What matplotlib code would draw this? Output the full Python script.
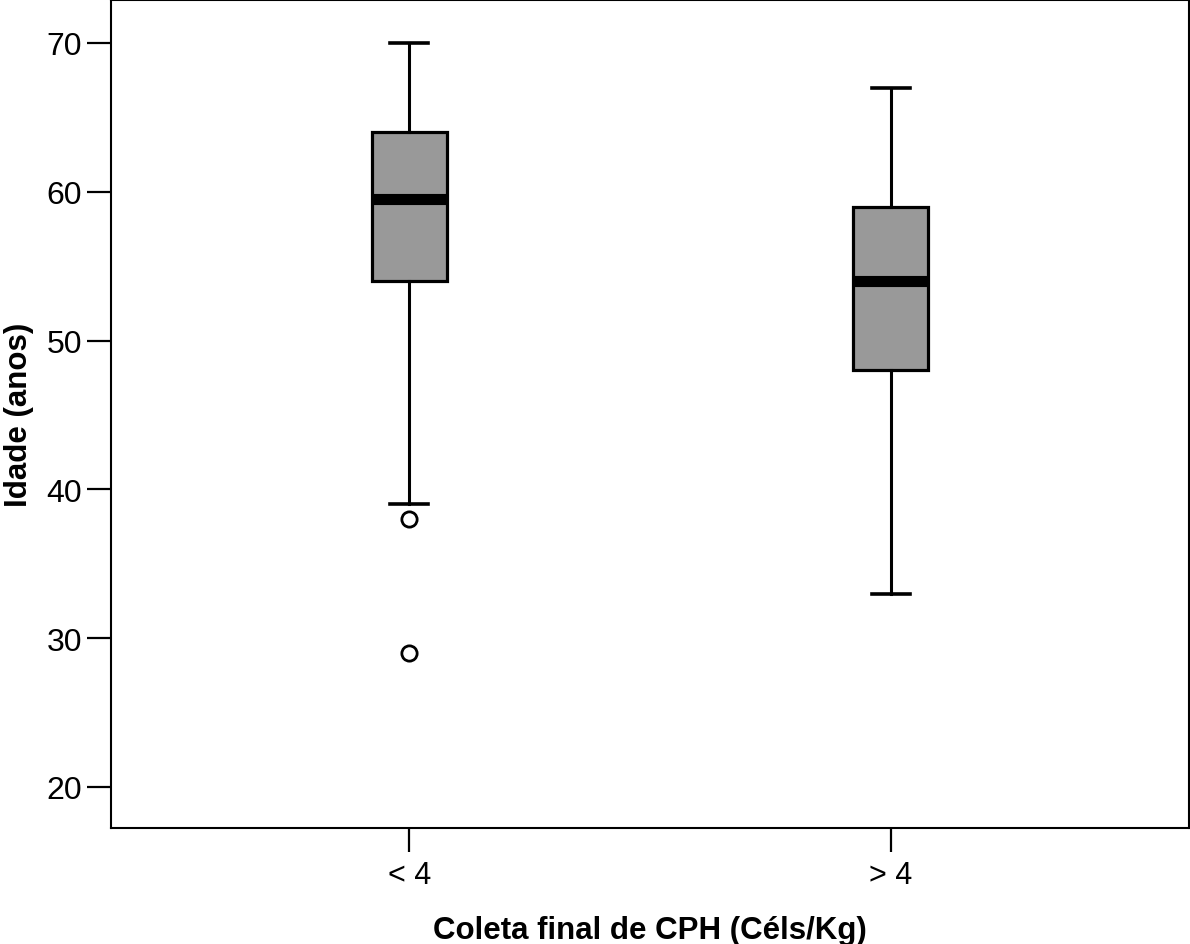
import matplotlib.pyplot as plt


GROUPS = ['< 4', '> 4']
WHISKER_LOW = [39, 33]
Q1 = [54, 48]
MEDIAN = [59.5, 54]
Q3 = [64, 59]
WHISKER_HIGH = [70, 67]
OUTLIERS = [[38, 29], []]

plt.rcParams['font.family'] = ['Liberation Sans', 'DejaVu Sans']


def build_stats():
	'Build box statistics for ax.bxp from the named lists.'
	stats = []
	for i, label in enumerate(GROUPS):
		stats.append({
			'label': label,
			'whislo': WHISKER_LOW[i],
			'q1': Q1[i],
			'med': MEDIAN[i],
			'q3': Q3[i],
			'whishi': WHISKER_HIGH[i],
			'fliers': OUTLIERS[i],
		})
	return stats


def main():
	fig = plt.figure(figsize=(11.9, 9.45), dpi=100)
	ax = fig.add_axes([111 / 1190, 1 - 829 / 945, (1189 - 111) / 1190, 828 / 945])
	ax.bxp(
		build_stats(), positions=[1, 2], widths=0.157, patch_artist=True,
		boxprops=dict(facecolor='#999999', edgecolor='black', linewidth=2.3),
		medianprops=dict(color='black', linewidth=8, solid_capstyle='butt'),
		whiskerprops=dict(color='black', linewidth=2.2),
		capprops=dict(color='black', linewidth=2.6),
		capwidths=0.079,
		flierprops=dict(marker='o', markerfacecolor='white', markeredgecolor='black',
			markersize=11, markeredgewidth=2),
	)
	ax.set_xlim(0.38, 2.62)
	ax.set_ylim(17.24, 72.89)
	ax.set_yticks([20, 30, 40, 50, 60, 70])
	ax.set_xticks([1, 2])
	ax.set_xticklabels(GROUPS)
	ax.tick_params(axis='both', length=17, width=1.6, labelsize=22, pad=6)
	ax.tick_params(axis='y', labelsize=23, pad=4)
	for spine in ax.spines.values():
		spine.set_linewidth(1.5)
	ax.set_xlabel('Coleta final de CPH (Céls/Kg)', fontsize=22.5, fontweight='bold', labelpad=18)
	ax.set_ylabel('Idade (anos)', fontsize=22.5, fontweight='bold', labelpad=9)
	fig.savefig('out.png', dpi=100)


if __name__ == '__main__':
	main()
